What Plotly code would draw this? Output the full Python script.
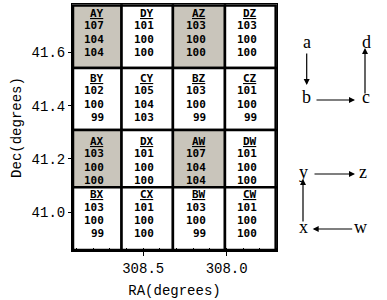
import plotly.graph_objects as go

# ---- data ----
cell_names = ["AY", "DY", "AZ", "DZ",
              "BY", "CY", "BZ", "CZ",
              "AX", "DX", "AW", "DW",
              "BX", "CX", "BW", "CW"]
cell_v1 = [107, 101, 103, 103, 102, 105, 103, 101, 103, 101, 107, 101, 103, 101, 103, 101]
cell_v2 = [104, 100, 100, 100, 100, 104, 100, 100, 100, 100, 104, 100, 100, 100, 100, 100]
cell_v3 = [104, 100, 100, 100, 99, 103, 99, 99, 100, 100, 104, 100, 99, 100, 99, 100]

col_edges_ra = [308.921, 308.630, 308.322, 308.010, 307.706]
row_edges_dec = [41.775, 41.541, 41.309, 41.094, 40.859]
label_dec = [41.673, 41.429, 41.193, 40.992]

x_ticks = [308.5, 308.0]
y_ticks = [41.0, 41.2, 41.4, 41.6]
x_range = [308.927, 307.698]
y_range = [40.855, 41.781]

shade = "rgb(201,197,187)"

fig = go.Figure()
# invisible trace to establish axes
fig.add_trace(go.Scatter(x=[x_range[0]], y=[y_range[0]], mode="markers",
                         marker=dict(opacity=0), showlegend=False, hoverinfo="skip"))

shapes = []
annotations = []
line_offsets = [-19.5, -7.0, 6.3, 19.3]
cell_font = dict(family="DejaVu Sans Mono", size=11, color="black")
for i, name in enumerate(cell_names):
    c = i % 4
    r = i // 4
    x0, x1 = col_edges_ra[c], col_edges_ra[c + 1]
    y0, y1 = row_edges_dec[r], row_edges_dec[r + 1]
    shapes.append(dict(type="rect", xref="x", yref="y", x0=x0, x1=x1, y0=y0, y1=y1,
                       fillcolor=shade if name.startswith("A") else "white",
                       line=dict(color="black", width=2.5), layer="below"))
    xc = (x0 + x1) / 2
    texts = ["<b><u>%s</u></b>" % name, "<b>%d</b>" % cell_v1[i],
             "<b>%d</b>" % cell_v2[i], "<b>%d</b>" % cell_v3[i]]
    for t, off in zip(texts, line_offsets):
        annotations.append(dict(x=xc, y=label_dec[r], xref="x", yref="y", text=t,
                                showarrow=False, xanchor="right", yanchor="middle",
                                xshift=9, yshift=-off, font=cell_font))

# orientation diagrams on the right (paper coords from pixel positions)
L, R, T, B = 72, 110, 4, 49
W, H = 387, 300
pw, ph = W - L - R, H - T - B

def px(xp):
    return (xp - L) / pw

def py(yp):
    return (H - B - yp) / ph

letter_font = dict(family="Liberation Serif", size=18, color="black")
letters = [("a", 306.7, 42), ("b", 306.7, 97), ("c", 366, 97), ("d", 366, 42),
           ("y", 303.3, 172), ("z", 363, 172), ("x", 303, 227), ("w", 360, 227)]
for t, xx, yy in letters:
    annotations.append(dict(x=px(xx), y=py(yy), xref="paper", yref="paper", text=t,
                            showarrow=False, xanchor="center", yanchor="middle",
                            font=letter_font))
arrows = [(306.7, 85, 0, -33), (355, 100, -40, 0), (365, 48, 0, 47),
          (355, 174, -42, 0), (303, 179, 0, 44), (312.7, 229, 41, 0)]
for hx, hy, ax, ay in arrows:
    annotations.append(dict(x=px(hx), y=py(hy), xref="paper", yref="paper", text="",
                            showarrow=True, ax=ax, ay=ay, arrowhead=2, arrowsize=1,
                            arrowwidth=1.2, arrowcolor="black", standoff=0))

axis_font = dict(family="Liberation Mono", size=14, color="black")
fig.update_layout(
    template="none",
    width=W, height=H,
    font=dict(color="black"),
    margin=dict(l=L, r=R, t=T, b=B, pad=0),
    paper_bgcolor="white", plot_bgcolor="white",
    shapes=shapes, annotations=annotations,
    xaxis=dict(range=x_range, tickvals=x_ticks, ticktext=["%.1f" % v for v in x_ticks],
               showgrid=False, zeroline=False, showline=True, mirror=True,
               linecolor="black", linewidth=1, ticks="outside", ticklen=4,
               tickcolor="black", tickwidth=1, tickfont=axis_font,
               minor=dict(dtick=0.1, ticks="inside", ticklen=3, tickcolor="black",
                          showgrid=False),
               title=dict(text="RA(degrees)", font=axis_font, standoff=9)),
    yaxis=dict(range=y_range, tickvals=y_ticks, ticktext=["%.1f" % v for v in y_ticks],
               showgrid=False, zeroline=False, showline=True, mirror=True,
               linecolor="black", linewidth=1, ticks="outside", ticklen=3,
               tickcolor="black", tickwidth=1, tickfont=axis_font,
               minor=dict(dtick=0.05, ticks="inside", ticklen=2, tickcolor="black",
                          showgrid=False),
               title=dict(text="Dec(degrees)", font=axis_font, standoff=6)),
)

fig.write_html("out.html", config={"displayModeBar": False},
               post_script="document.body.style.margin='0';")
